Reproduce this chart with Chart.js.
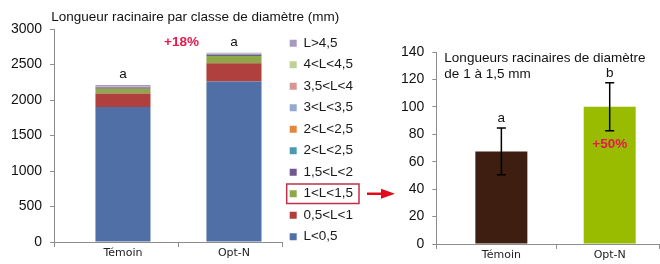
<!DOCTYPE html>
<html lang="fr">
<head>
<meta charset="UTF-8">
<title>Longueur racinaire par classe de diamètre</title>
<script src="https://cdn.jsdelivr.net/npm/chart.js"></script>
<style>
    body { margin: 0; background: #fff; width: 660px; height: 264px; overflow: hidden; position: relative; }
    #left { position: absolute; left: 0; top: 0; width: 400px; height: 264px; }
    #right { position: absolute; left: 392px; top: 0; width: 268px; height: 264px; }
</style>
</head>
<body>
<div id="left"><canvas id="stackChart"></canvas></div>
<div id="right"><canvas id="fineChart"></canvas></div>
<script>
    const treatments = ["Témoin", "Opt-N"];

    // root length per diameter class (mm), bottom to top of the stack
    const classLabels = ["L<0,5", "0,5<L<1", "1<L<1,5", "1,5<L<2", "2<L<2,5", "2<L<2,5", "3<L<3,5", "3,5<L<4", "4<L<4,5", "L>4,5"];
    const classColors = ["#4f6fa6", "#b0403d", "#8ea849", "#71588f", "#4a9baf", "#e3873a", "#94a9cf", "#d79593", "#bfd196", "#a899c0"];
    const temoinLengths = [1900, 190, 67, 20, 5, 4, 3, 3, 3, 15];
    const optNLengths = [2260, 258, 100, 20, 5, 4, 3, 3, 3, 8];
    const stackLetters = ["a", "a"];
    const stackGain = "+18%";
    const leftTicks = [0, 500, 1000, 1500, 2000, 2500, 3000];

    // roots 1 to 1.5 mm
    const fineLengths = [67.5, 100];
    const fineErrors = [17, 17.5];
    const fineLetters = ["a", "b"];
    const fineColors = ["#3d1e11", "#99bb00"];
    const fineGain = "+50%";
    const rightTicks = [0, 20, 40, 60, 80, 100, 120, 140];

    const ARIAL = "'Liberation Sans', Arial, sans-serif";
    const AXIS = "#8c8c8c";
    const RED = "#e8194a";
    const plain = v => String(v);
    const slots = treatments.map((t, i) => i + 1);

    // category tick marks sit between the bars, like the spreadsheet axis
    function categoryMarks(chart) {
        const ctx = chart.ctx;
        const x = chart.scales.x;
        const yb = chart.chartArea.bottom;
        const marks = [x.left, x.getPixelForValue(1.5), x.right];
        ctx.save();
        ctx.strokeStyle = AXIS;
        ctx.lineWidth = 1;
        ctx.beginPath();
        marks.forEach(px => {
            ctx.moveTo(Math.round(px) + 0.5, yb);
            ctx.lineTo(Math.round(px) + 0.5, yb + 5);
        });
        ctx.stroke();
        ctx.restore();
    }

    const stackLabels = {
        id: "stackLabels",
        afterDraw(chart) {
            categoryMarks(chart);
            const ctx = chart.ctx;
            const area = chart.chartArea;
            const n = chart.data.datasets.length;
            const tops = chart.getDatasetMeta(n - 1).data;
            ctx.save();
            ctx.fillStyle = "#111";
            ctx.font = "13.5px " + ARIAL;
            ctx.textAlign = "left";
            ctx.textBaseline = "alphabetic";
            ctx.fillText("Longueur racinaire par classe de diamètre (mm)", area.left - 3, 21);

            ctx.textAlign = "center";
            ctx.textBaseline = "bottom";
            tops.forEach((bar, i) => {
                ctx.fillText(stackLetters[i], bar.x, bar.y - 4);
            });
            ctx.fillStyle = RED;
            ctx.font = "bold 13.5px " + ARIAL;
            ctx.fillText(stackGain, chart.scales.x.getPixelForValue(1.5) + 3, tops[1].y - 4);

            // frame round the 1<L<1,5 legend entry and arrow to the right chart
            const legend = chart.legend;
            const idx = legend.legendItems.findIndex(it => it.datasetIndex === 2);
            const hb = legend.legendHitBoxes[idx];
            if (hb) {
                const x0 = hb.left - 3, y0 = hb.top - 3;
                const w = hb.width + 9, h = hb.height + 6;
                ctx.strokeStyle = "#c0304a";
                ctx.lineWidth = 1.5;
                ctx.strokeRect(x0, y0, w, h);
                const cy = y0 + h / 2;
                const ax = x0 + w + 8;
                ctx.strokeStyle = "#e00b1c";
                ctx.fillStyle = "#e00b1c";
                ctx.lineWidth = 2.5;
                ctx.beginPath();
                ctx.moveTo(ax, cy);
                ctx.lineTo(ax + 16, cy);
                ctx.stroke();
                ctx.beginPath();
                ctx.moveTo(ax + 14, cy - 5);
                ctx.lineTo(ax + 28, cy);
                ctx.lineTo(ax + 14, cy + 5);
                ctx.closePath();
                ctx.fill();
            }
            ctx.restore();
        }
    };

    const errorBars = {
        id: "errorBars",
        afterDatasetsDraw(chart) {
            categoryMarks(chart);
            const ctx = chart.ctx;
            const y = chart.scales.y;
            const area = chart.chartArea;
            const bars = chart.getDatasetMeta(0).data;
            ctx.save();
            ctx.strokeStyle = "#000";
            ctx.lineWidth = 1.5;
            bars.forEach((bar, i) => {
                const hi = y.getPixelForValue(fineLengths[i] + fineErrors[i]);
                const lo = y.getPixelForValue(fineLengths[i] - fineErrors[i]);
                ctx.beginPath();
                ctx.moveTo(bar.x, hi);
                ctx.lineTo(bar.x, lo);
                ctx.moveTo(bar.x - 4.5, hi);
                ctx.lineTo(bar.x + 4.5, hi);
                ctx.moveTo(bar.x - 4.5, lo);
                ctx.lineTo(bar.x + 4.5, lo);
                ctx.stroke();
                ctx.fillStyle = "#111";
                ctx.font = "13.5px " + ARIAL;
                ctx.textAlign = "center";
                ctx.textBaseline = "bottom";
                ctx.fillText(fineLetters[i], bar.x, hi - 3);
            });
            ctx.fillStyle = RED;
            ctx.font = "bold 13.5px " + ARIAL;
            ctx.textAlign = "center";
            ctx.textBaseline = "middle";
            ctx.fillText(fineGain, bars[1].x, bars[1].y + 37);

            ctx.fillStyle = "#111";
            ctx.font = "13.5px " + ARIAL;
            ctx.textAlign = "left";
            ctx.textBaseline = "alphabetic";
            ctx.fillText("Longueurs racinaires de diamètre", area.left + 8, area.top + 10);
            ctx.fillText("de 1 à 1,5 mm", area.left + 8, area.top + 25.5);
            ctx.restore();
        }
    };

    const xTicks = {
        color: "#222",
        padding: 6,
        font: { family: "'DejaVu Sans'", size: 11, lineHeight: 1 },
        callback: v => treatments[v - 1]
    };

    new Chart(document.getElementById("stackChart"), {
        type: "bar",
        data: {
            datasets: classLabels.map((lab, k) => ({
                label: lab,
                data: slots.map(s => ({ x: s, y: [temoinLengths, optNLengths][s - 1][k] })),
                backgroundColor: classColors[k],
                borderWidth: 0,
                barPercentage: 0.496,
                categoryPercentage: 1
            }))
        },
        options: {
            responsive: true,
            maintainAspectRatio: false,
            animation: false,
            layout: { padding: { left: 3, top: 0, right: 37, bottom: -1 } },
            plugins: {
                // empty title only reserves the band the heading is drawn in
                title: {
                    display: true,
                    text: "",
                    fullSize: false,
                    font: { size: 0 },
                    padding: { top: 29, bottom: 0 }
                },
                legend: {
                    position: "right",
                    reverse: true,
                    title: { display: true, text: "", font: { size: 0 }, padding: { top: 15, bottom: 0 } },
                    labels: {
                        boxWidth: 7,
                        boxHeight: 7,
                        padding: 8,
                        color: "#1a1a1a",
                        font: { family: ARIAL, size: 13.5 }
                    }
                },
                tooltip: { enabled: false }
            },
            scales: {
                x: {
                    type: "linear",
                    stacked: true,
                    offset: false,
                    min: 0.38,
                    max: 2.43,
                    afterBuildTicks: s => { s.ticks = slots.map(v => ({ value: v })); },
                    grid: { drawOnChartArea: false, drawTicks: false },
                    border: { color: AXIS },
                    ticks: xTicks
                },
                y: {
                    stacked: true,
                    min: 0,
                    max: 3000,
                    afterBuildTicks: s => { s.ticks = leftTicks.map(v => ({ value: v })); },
                    grid: { drawOnChartArea: false, tickLength: 4, color: AXIS },
                    border: { color: AXIS },
                    ticks: { color: "#111", padding: 8, callback: plain, font: { family: ARIAL, size: 14 } }
                }
            }
        },
        plugins: [stackLabels]
    });

    new Chart(document.getElementById("fineChart"), {
        type: "bar",
        data: {
            datasets: [{
                data: slots.map(s => ({ x: s, y: fineLengths[s - 1] })),
                backgroundColor: fineColors,
                borderWidth: 0,
                barPercentage: 0.48,
                categoryPercentage: 1
            }]
        },
        options: {
            responsive: true,
            maintainAspectRatio: false,
            animation: false,
            layout: { padding: { left: 1, top: 52, right: 1, bottom: -3 } },
            plugins: {
                legend: { display: false },
                tooltip: { enabled: false }
            },
            scales: {
                x: {
                    type: "linear",
                    offset: false,
                    min: 0.4,
                    max: 2.455,
                    afterBuildTicks: s => { s.ticks = slots.map(v => ({ value: v })); },
                    grid: { drawOnChartArea: false, drawTicks: false },
                    border: { color: AXIS },
                    ticks: xTicks
                },
                y: {
                    min: 0,
                    max: 140,
                    afterBuildTicks: s => { s.ticks = rightTicks.map(v => ({ value: v })); },
                    grid: { drawOnChartArea: false, tickLength: 4, color: AXIS },
                    border: { color: AXIS },
                    ticks: { color: "#111", padding: 8, callback: plain, font: { family: ARIAL, size: 14 } }
                }
            }
        },
        plugins: [errorBars]
    });
</script>
</body>
</html>
